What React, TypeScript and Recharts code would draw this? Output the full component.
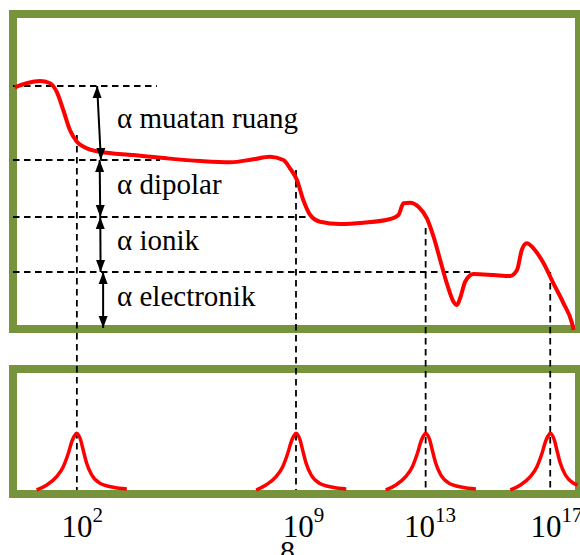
import React from 'react';
import { ComposedChart, Line, XAxis, YAxis, ReferenceArea, ReferenceDot } from 'recharts';

// x: log10 of frequency (Hz), y: polarizability (arbitrary units)
const exponentTicks = [2, 9, 13, 17];

// total polarizability vs frequency
const polarizationCurve = [
  { e: 0.06, a: 24.17 }, { e: 0.43, a: 24.57 }, { e: 0.85, a: 24.8 }, { e: 1.17, a: 24.57 },
  { e: 1.38, a: 23.73 }, { e: 1.59, a: 21.9 }, { e: 1.8, a: 19.9 }, { e: 2.02, a: 18.73 },
  { e: 2.33, a: 18.07 }, { e: 2.75, a: 17.73 }, { e: 3.81, a: 17.4 }, { e: 4.86, a: 17.07 },
  { e: 5.92, a: 16.8 }, { e: 6.87, a: 16.67 }, { e: 7.6, a: 16.97 }, { e: 8.13, a: 17.23 },
  { e: 8.55, a: 16.9 }, { e: 8.76, a: 16.07 }, { e: 8.98, a: 14.9 }, { e: 9.18, a: 12.9 },
  { e: 9.4, a: 11.4 }, { e: 9.71, a: 10.73 }, { e: 10.35, a: 10.5 }, { e: 11.08, a: 10.63 },
  { e: 11.93, a: 11.0 }, { e: 12.19, a: 11.4 }, { e: 12.35, a: 12.57 }, { e: 12.56, a: 12.63 },
  { e: 12.82, a: 12.23 }, { e: 13.09, a: 11.07 }, { e: 13.3, a: 9.23 }, { e: 13.51, a: 6.9 },
  { e: 13.72, a: 4.57 }, { e: 13.93, a: 2.73 }, { e: 14.04, a: 2.4 }, { e: 14.14, a: 3.07 },
  { e: 14.3, a: 4.73 }, { e: 14.56, a: 5.5 }, { e: 15.2, a: 5.4 }, { e: 15.72, a: 5.3 },
  { e: 15.94, a: 5.9 }, { e: 16.09, a: 7.9 }, { e: 16.25, a: 8.57 }, { e: 16.46, a: 8.07 },
  { e: 16.78, a: 6.57 }, { e: 17.09, a: 4.57 }, { e: 17.41, a: 2.57 }, { e: 17.68, a: 0.57 },
  { e: 17.73, a: -0.1 },
];

// polarizability contribution levels, bottom to top
const levelValues = [5.7, 11.2, 16.9, 24.3];
const levelLabels = ['α electronik', 'α ionik', 'α dipolar', 'α muatan ruang'];
// where each horizontal guide ends (log10 f)
const levelGuideEnds = [14.46, 9.4, 4.65, 4.55];

// resonance / relaxation frequencies and where their guides start
const peakExponents = [2.02, 8.95, 13.05, 16.99];
const peakGuideTops = [19.4, 15.9, 10.1, 5.7];

// dielectric loss peaks (height above the lower panel baseline)
const lossPeak1 = [
  { e: 0.75, h: 0 }, { e: 1.07, h: 0.5 }, { e: 1.38, h: 1.33 }, { e: 1.59, h: 2.33 },
  { e: 1.75, h: 3.67 }, { e: 1.86, h: 4.83 }, { e: 1.94, h: 5.4 }, { e: 2.015, h: 5.67 },
  { e: 2.08, h: 5.45 }, { e: 2.14, h: 5.0 }, { e: 2.22, h: 4.0 }, { e: 2.33, h: 2.67 },
  { e: 2.49, h: 1.5 }, { e: 2.75, h: 0.67 }, { e: 3.17, h: 0.27 }, { e: 3.6, h: 0.1 },
];
const lossPeak2 = [
  { e: 7.69, h: 0 }, { e: 8.0, h: 0.5 }, { e: 8.32, h: 1.33 }, { e: 8.53, h: 2.33 },
  { e: 8.69, h: 3.67 }, { e: 8.8, h: 4.83 }, { e: 8.88, h: 5.4 }, { e: 8.95, h: 5.67 },
  { e: 9.02, h: 5.45 }, { e: 9.08, h: 5.0 }, { e: 9.16, h: 4.0 }, { e: 9.27, h: 2.67 },
  { e: 9.43, h: 1.5 }, { e: 9.69, h: 0.67 }, { e: 10.11, h: 0.27 }, { e: 10.54, h: 0.1 },
];
const lossPeak3 = [
  { e: 11.79, h: 0 }, { e: 12.11, h: 0.5 }, { e: 12.42, h: 1.33 }, { e: 12.63, h: 2.33 },
  { e: 12.79, h: 3.67 }, { e: 12.9, h: 4.83 }, { e: 12.98, h: 5.4 }, { e: 13.05, h: 5.67 },
  { e: 13.12, h: 5.45 }, { e: 13.18, h: 5.0 }, { e: 13.26, h: 4.0 }, { e: 13.37, h: 2.67 },
  { e: 13.53, h: 1.5 }, { e: 13.79, h: 0.67 }, { e: 14.21, h: 0.27 }, { e: 14.64, h: 0.1 },
];
const lossPeak4 = [
  { e: 15.73, h: 0 }, { e: 16.05, h: 0.5 }, { e: 16.36, h: 1.33 }, { e: 16.57, h: 2.33 },
  { e: 16.73, h: 3.67 }, { e: 16.84, h: 4.83 }, { e: 16.92, h: 5.4 }, { e: 16.99, h: 5.67 },
  { e: 17.06, h: 5.45 }, { e: 17.12, h: 5.0 }, { e: 17.2, h: 4.0 }, { e: 17.31, h: 2.67 },
  { e: 17.47, h: 1.5 }, { e: 17.73, h: 0.67 }, { e: 17.85, h: 0.5 },
];

// layout of the two panels in y units
const X_MIN = 0;
const X_MAX = 17.9;
const Y_MIN = -16.5;
const Y_MAX = 31.5;
const TOP_PANEL = { y1: 0, y2: 31.5 };
const LOW_PANEL = { y1: -16.5, y2: -4 };
const LOSS_BASE = -16.1;

const RED = '#ff0000';
const GREEN = '#77933c';
const SERIF = "'Liberation Serif', 'Times New Roman', Times, 'DejaVu Serif', serif";

const lossSeries = [lossPeak1, lossPeak2, lossPeak3, lossPeak4].map((pk) =>
  pk.map((p) => ({ e: p.e, a: LOSS_BASE + p.h }))
);

const horizontalGuides = levelValues.map((v, i) => [
  { e: X_MIN, a: v },
  { e: levelGuideEnds[i], a: v },
]);

const verticalGuides = peakExponents.map((e, i) => [
  { e, a: peakGuideTops[i] },
  { e, a: LOSS_BASE },
]);

// double-headed arrows spanning each contribution (top point first)
const arrowX = [2.85, 2.76, 2.74, 2.66];
const arrowXBottom = [2.85, 2.77, 2.76, 2.78];
const arrowBounds = [0.1, ...levelValues];
const arrows = levelValues.map((top, i) => [
  { e: arrowX[i], a: top },
  { e: arrowXBottom[i], a: arrowBounds[i] },
]);

const ArrowHead = (props: any) => {
  const { cx, cy, index } = props;
  if (cx == null || cy == null) return null;
  const L = 12;
  const W = 4.5;
  const dir = index === 0 ? 1 : -1;
  const d = `M${cx},${cy} L${cx - W},${cy + dir * L} L${cx + W},${cy + dir * L} Z`;
  return <path key={`ah-${index}`} d={d} fill="#000" stroke="none" />;
};

const PowerTick = (props: any) => {
  const { x, y, payload } = props;
  return (
    <text
      x={x + 6}
      y={y + 43}
      textAnchor="middle"
      style={{ fontFamily: SERIF, fontSize: 31 }}
      fill="#000"
    >
      10
      <tspan dy={-15} style={{ fontSize: 21 }}>
        {payload.value}
      </tspan>
    </text>
  );
};

const labelShape = (text: string) => (p: any) => (
  <text x={p.cx} y={p.cy} style={{ fontFamily: SERIF, fontSize: 29 }} fill="#000">
    {text}
  </text>
);

export default function App() {
  return (
    <div style={{ position: 'absolute', left: 0, top: 0, width: 580, height: 555 }}>
      <ComposedChart width={580} height={555} margin={{ top: 14, right: 1, bottom: 21, left: 13 }}>
        <XAxis
          type="number"
          dataKey="e"
          domain={[X_MIN, X_MAX]}
          ticks={exponentTicks}
          allowDataOverflow
          axisLine={false}
          tickLine={false}
          tickSize={0}
          tickMargin={0}
          height={40}
          tick={<PowerTick />}
          interval={0}
        />
        <YAxis type="number" domain={[Y_MIN, Y_MAX]} hide allowDataOverflow />

        <ReferenceArea
          x1={X_MIN}
          x2={X_MAX}
          y1={TOP_PANEL.y1}
          y2={TOP_PANEL.y2}
          fill="none"
          stroke={GREEN}
          strokeWidth={8}
          ifOverflow="visible"
        />
        <ReferenceArea
          x1={X_MIN}
          x2={X_MAX}
          y1={LOW_PANEL.y1}
          y2={LOW_PANEL.y2}
          fill="none"
          stroke={GREEN}
          strokeWidth={8}
          ifOverflow="visible"
        />

        {horizontalGuides.map((d, i) => (
          <Line
            key={`hg-${i}`}
            data={d}
            dataKey="a"
            type="linear"
            stroke="#000"
            strokeWidth={1.8}
            strokeDasharray="6.5 4.5"
            dot={false}
            activeDot={false}
            isAnimationActive={false}
          />
        ))}
        {verticalGuides.map((d, i) => (
          <Line
            key={`vg-${i}`}
            data={d}
            dataKey="a"
            type="linear"
            stroke="#000"
            strokeWidth={1.8}
            strokeDasharray="6.5 4.5"
            dot={false}
            activeDot={false}
            isAnimationActive={false}
          />
        ))}

        <Line
          data={polarizationCurve}
          dataKey="a"
          type="monotone"
          stroke={RED}
          strokeWidth={4}
          dot={false}
          activeDot={false}
          isAnimationActive={false}
        />
        {lossSeries.map((d, i) => (
          <Line
            key={`loss-${i}`}
            data={d}
            dataKey="a"
            type="monotone"
            stroke={RED}
            strokeWidth={3.5}
            dot={false}
            activeDot={false}
            isAnimationActive={false}
          />
        ))}

        {arrows.map((d, i) => (
          <Line
            key={`ar-${i}`}
            data={d}
            dataKey="a"
            type="linear"
            stroke="#000"
            strokeWidth={2}
            dot={<ArrowHead />}
            activeDot={false}
            isAnimationActive={false}
          />
        ))}

        {levelLabels.map((t, i) => {
          const lower = i === 0 ? 0 : levelValues[i - 1];
          const mid = (lower + levelValues[i]) / 2;
          return (
            <ReferenceDot
              key={`lbl-${i}`}
              x={3.29}
              y={mid - 0.5}
              r={0}
              ifOverflow="visible"
              shape={labelShape(t)}
            />
          );
        })}

        <ReferenceDot
          x={8.68}
          y={-23.2}
          r={0}
          ifOverflow="visible"
          shape={(p: any) => (
            <text
              x={p.cx}
              y={p.cy}
              textAnchor="middle"
              style={{ fontFamily: SERIF, fontSize: 30 }}
              fill="#000"
            >
              8
            </text>
          )}
        />
      </ComposedChart>
    </div>
  );
}
